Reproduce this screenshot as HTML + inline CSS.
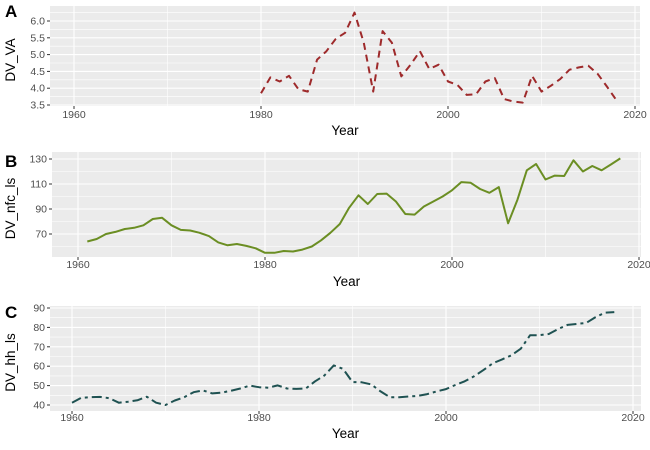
<!DOCTYPE html>
<html><head><meta charset="utf-8"><style>
body{margin:0;background:#fff}
svg{display:block;font-family:"Liberation Sans",Arial,sans-serif}
</style></head><body>
<svg id="c" width="650" height="450" viewBox="0 0 650 450" xmlns="http://www.w3.org/2000/svg"></svg>
<script>
const yearsA = [1980,1981,1982,1983,1984,1985,1986,1987,1988,1989,1990,1991,1992,1993,1994,1995,1996,1997,1998,1999,2000,2001,2002,2003,2004,2005,2006,2007,2008,2009,2010,2011,2012,2013,2014,2015,2016,2017,2018];
const valuesA = [3.85,4.32,4.2,4.37,3.97,3.9,4.85,5.1,5.47,5.65,6.25,5.35,3.9,5.7,5.35,4.35,4.7,5.1,4.57,4.7,4.2,4.1,3.8,3.82,4.2,4.3,3.68,3.6,3.57,4.37,3.9,4.07,4.27,4.55,4.62,4.67,4.43,4.05,3.65];
const yearsB = [1961,1962,1963,1964,1965,1966,1967,1968,1969,1970,1971,1972,1973,1974,1975,1976,1977,1978,1979,1980,1981,1982,1983,1984,1985,1986,1987,1988,1989,1990,1991,1992,1993,1994,1995,1996,1997,1998,1999,2000,2001,2002,2003,2004,2005,2006,2007,2008,2009,2010,2011,2012,2013,2014,2015,2016,2017,2018];
const valuesB = [64,66,70,71.7,74,75,77,82,83,77,73.3,72.8,71,68.3,63.3,61,62,60.5,58.6,55,55,56.4,56,57.5,60,65,71,78,91,101,94,102,102.3,96,86,85.5,92,96,100,105,111.5,111,106,103,107.5,78.6,97.5,121,126,113.6,116.7,116.4,129,120,124.4,121,125.6,130.5];
const yearsC = [1960,1961,1962,1963,1964,1965,1966,1967,1968,1969,1970,1971,1972,1973,1974,1975,1976,1977,1978,1979,1980,1981,1982,1983,1984,1985,1986,1987,1988,1989,1990,1991,1992,1993,1994,1995,1996,1997,1998,1999,2000,2001,2002,2003,2004,2005,2006,2007,2008,2009,2010,2011,2012,2013,2014,2015,2016,2017,2018];
const valuesC = [41.2,43.7,44,44.2,43.5,41.2,41.7,42.4,44.3,41.2,40,42.3,44,46.6,47.5,46,46.4,47.3,48.5,50,49.2,48.9,50.1,48.5,48.3,48.5,52.2,55.2,60.4,58.6,51.8,51.7,50.6,47,44,44,44.4,44.7,45.6,47,48.2,50.3,52.2,54.8,58,61.5,63.5,65.6,69,76,76,76.6,79.2,81.3,81.8,82.3,85.3,87.6,87.9];
const xTicks = [1960,1980,2000,2020];
const xMinor = [1970,1990,2010];
const yTicksA = [3.5,4.0,4.5,5.0,5.5,6.0];
const yTicksB = [70,90,110,130];
const yTicksC = [40,50,60,70,80,90];

const NS="http://www.w3.org/2000/svg";
const svg=document.getElementById('c');
function mk(t,a,p){const e=document.createElementNS(NS,t);for(const k in a)e.setAttribute(k,a[k]);(p||svg).appendChild(e);return e;}

const panels=[
 {id:'a',tag:'A',title:'DV_VA',L:50,R:640,T:6,B:106,x0:74,y0v:3.5,y0p:105,y1v:6.0,y1p:21,ticks:yTicksA,dec:1,years:yearsA,vals:valuesA,color:'#9e2a2b',dash:'7,5',xl:118,yt:135,tagY:17},
 {id:'b',tag:'B',title:'DV_nfc_ls',L:52,R:641,T:152,B:257,x0:78,y0v:70,y0p:234,y1v:130,y1p:159,ticks:yTicksB,dec:0,years:yearsB,vals:valuesB,color:'#6b8e23',dash:'',xl:268,yt:286,tagY:167},
 {id:'c',tag:'C',title:'DV_hh_ls',L:50,R:641,T:306,B:411,x0:72,y0v:40,y0p:405,y1v:90,y1p:308,ticks:yTicksC,dec:0,years:yearsC,vals:valuesC,color:'#1f5252',dash:'10,4,3,4',xl:421,yt:438,tagY:318}
];
panels.forEach(p=>{
 const g=mk('g',{});
 
 
 const xs=yr=>p.x0+(yr-1960)*9.35;
 const ys=v=>p.y0p+(v-p.y0v)*(p.y1p-p.y0p)/(p.y1v-p.y0v);
 const bg=mk('rect',{x:p.L,y:p.T,width:p.R-p.L,height:p.B-p.T,fill:'#ebebeb'},g);
 
 
 const step=p.ticks[1]-p.ticks[0];
 for(let i=0;i<p.ticks.length-1;i++){const v=p.ticks[i]+step/2;mk('line',{x1:p.L,x2:p.R,y1:ys(v),y2:ys(v),stroke:'#fff','stroke-width':0.6},g);}
 const lo=p.ticks[0]-step/2, hi=p.ticks[p.ticks.length-1]+step/2;
 [lo,hi].forEach(v=>{const y=ys(v);if(y>p.T&&y<p.B)mk('line',{x1:p.L,x2:p.R,y1:y,y2:y,stroke:'#fff','stroke-width':0.6},g);});
 xMinor.forEach(v=>mk('line',{x1:xs(v),x2:xs(v),y1:p.T,y2:p.B,stroke:'#fff','stroke-width':0.6},g));
 p.ticks.forEach(v=>{
  mk('line',{x1:p.L,x2:p.R,y1:ys(v),y2:ys(v),stroke:'#fff','stroke-width':1.1},g);
  mk('line',{x1:p.L-3,x2:p.L,y1:ys(v),y2:ys(v),stroke:'#333','stroke-width':1},g);
  const t=mk('text',{x:p.L-5,y:ys(v)+3.5,'text-anchor':'end','font-size':10.5,fill:'#4d4d4d'},g);
  t.textContent=v.toFixed(p.dec);
  
  
 });
 xTicks.forEach(v=>{
  mk('line',{x1:xs(v),x2:xs(v),y1:p.T,y2:p.B,stroke:'#fff','stroke-width':1.1},g);
  mk('line',{x1:xs(v),x2:xs(v),y1:p.B,y2:p.B+3,stroke:'#333','stroke-width':1},g);
  const t=mk('text',{x:xs(v),y:p.xl,'text-anchor':'middle','font-size':10.5,fill:'#4d4d4d'},g);
  t.textContent=v;
  
  
 });
 const d=p.years.map((yr,i)=>(i?'L':'M')+xs(yr).toFixed(1)+','+ys(p.vals[i]).toFixed(1)).join('');
 const ln=mk('path',{d:d,fill:'none',stroke:p.color,'stroke-width':2,'stroke-dasharray':p.dash,'stroke-linejoin':'round'},g);
 
 
 const xt=mk('text',{x:(p.L+p.R)/2,y:p.yt,'text-anchor':'middle','font-size':13.5,fill:'#000'},g);
 xt.textContent='Year';
 
 
 const cy=(p.T+p.B)/2;
 const yt=mk('text',{x:15,y:cy+4,'text-anchor':'middle','font-size':13.5,fill:'#000',transform:'rotate(-90 15 '+(cy+4)+')'},g);
 yt.textContent=p.title;
 
 
 const tg=mk('text',{x:5,y:p.tagY,'font-size':17,'font-weight':'bold',fill:'#000'},g);
 tg.textContent=p.tag;
 
 
});
</script>
</body></html>
